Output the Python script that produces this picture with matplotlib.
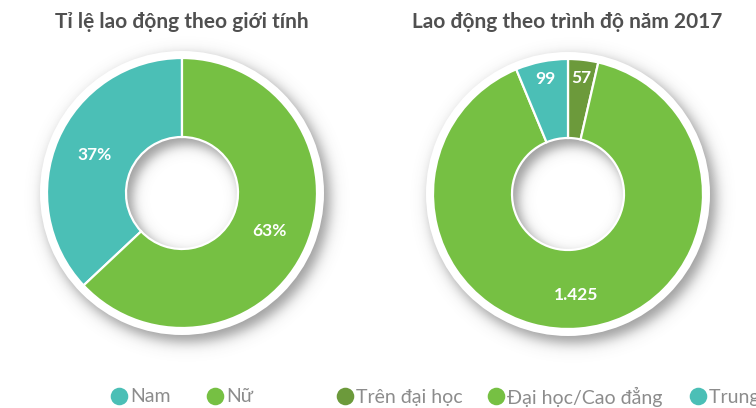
import matplotlib
matplotlib.use("Agg")
import matplotlib.pyplot as plt
from matplotlib.patches import Wedge
import numpy as np

# ---- data ----
gender_labels = ["Nam", "Nữ"]
gender_pct = [37, 63]
level_labels = ["Trên đại học", "Đại học/Cao đẳng", "Trung cấp"]
level_values = [57, 1425, 99]
level_text = ["57", "1.425", "99"]

TEAL = "#4BBFB6"; GREEN = "#76C043"; DKGREEN = "#6C9A3B"
TITLE = "#505050"; LEG = "#8C8C8C"
FONT = ["Lato", "DejaVu Sans"]

W, H = 756, 408
fig = plt.figure(figsize=(W / 100, H / 100), dpi=100)
ax = fig.add_axes([0, 0, 1, 1])

R_OUT, R_IN, RING = 135, 56, 142
centers = [(182, 215), (568, 214)]

# soft drop shadow under both donuts
yy, xx = np.mgrid[0:H, 0:W] + 0.5
shadow = np.zeros((H, W))
sig = lambda z: 1 / (1 + np.exp(-z))
for cx, cy in centers:
    d = np.hypot(xx - (cx + 5), yy - (cy - 6))
    shadow = np.maximum(shadow, sig((RING + 1 - d) / 4) * sig((d - R_IN + 2) / 3.5))
rgba = np.zeros((H, W, 4))
rgba[..., :3] = 0.3
rgba[..., 3] = 0.55 * shadow
ax.imshow(rgba, extent=(0, W, 0, H), origin="lower", zorder=0, interpolation="bilinear")

for cx, cy in centers:
    ax.add_patch(Wedge((cx, cy), RING, 0, 360, width=RING - R_IN, fc="white", ec="none", zorder=1))

wp = dict(width=R_OUT - R_IN, edgecolor="white", linewidth=1.6)

# left donut: gender
w1, _ = ax.pie(gender_pct, colors=[TEAL, GREEN], center=centers[0], radius=R_OUT,
               startangle=90, counterclock=True, wedgeprops=wp)
for w, p in zip(w1, gender_pct):
    a = np.deg2rad((w.theta1 + w.theta2) / 2)
    r = (R_OUT + R_IN) / 2
    ax.text(centers[0][0] + r * np.cos(a), centers[0][1] + r * np.sin(a), f"{p}%",
            color="white", fontsize=12.5, fontweight="bold", ha="center", va="center",
            family=FONT, zorder=5)

# right donut: qualification
w2, _ = ax.pie(level_values, colors=[DKGREEN, GREEN, TEAL], center=centers[1], radius=R_OUT,
               startangle=90, counterclock=False, wedgeprops=wp)
for w, t, v in zip(w2, level_text, level_values):
    a = np.deg2rad((w.theta1 + w.theta2) / 2)
    r = 117 if v < 200 else 101
    ax.text(centers[1][0] + r * np.cos(a), centers[1][1] + r * np.sin(a), t,
            color="white", fontsize=12.5, fontweight="bold", ha="center", va="center",
            family=FONT, zorder=5)

for w in list(w1) + list(w2):
    w.set_zorder(2)

# titles
ax.text(182, 386, "Tỉ lệ lao động theo giới tính", color=TITLE, fontsize=15,
        fontweight="bold", ha="center", va="center", family=FONT)
ax.text(567, 386, "Lao động theo trình độ năm 2017", color=TITLE, fontsize=15,
        fontweight="bold", ha="center", va="center", family=FONT)

# legends
leg_x = [119, 215, 345, 496, 698]
leg_labels = gender_labels + level_labels
leg_cols = [TEAL, GREEN, DKGREEN, GREEN, TEAL]
for x, lab, c in zip(leg_x, leg_labels, leg_cols):
    ax.scatter([x], [12], s=160, color=c, zorder=3, linewidths=0)
    ax.text(x + 11, 11, lab, color=LEG, fontsize=14, ha="left", va="center", family=FONT)

ax.set_xlim(0, W)
ax.set_ylim(0, H)
ax.set_aspect("equal")
ax.axis("off")
fig.savefig("out.png", dpi=100, facecolor="white")
